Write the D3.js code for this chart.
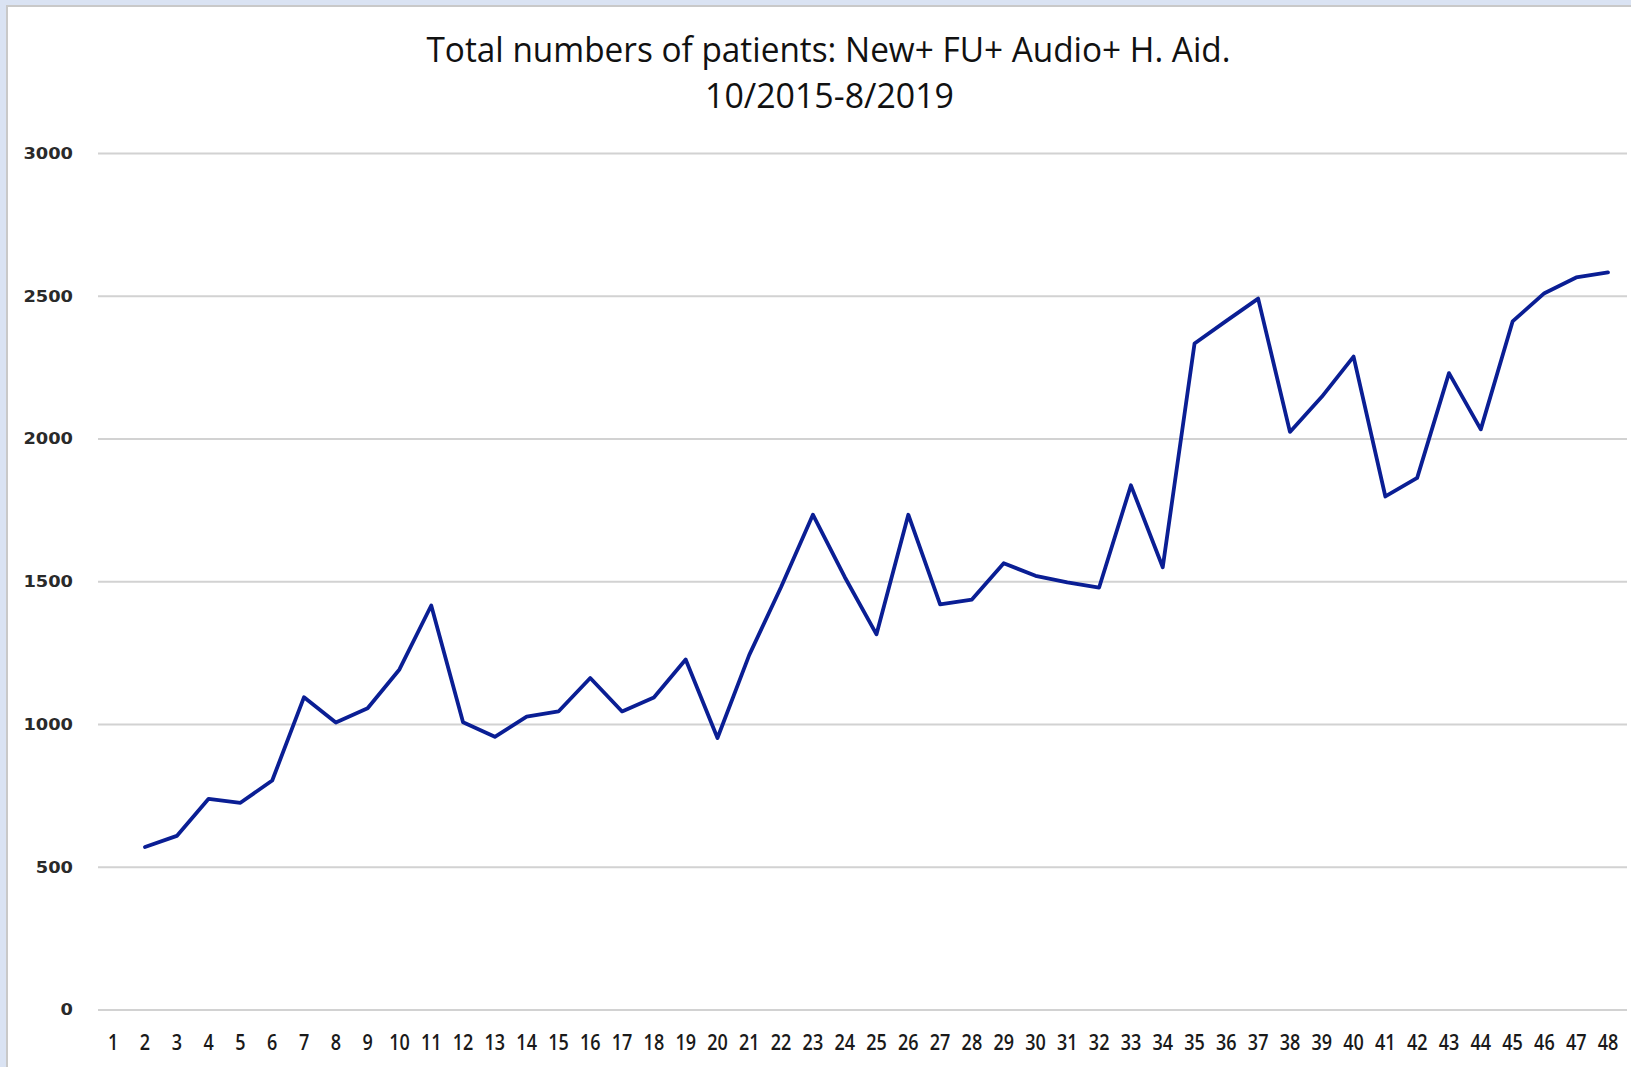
<!DOCTYPE html>
<html>
<head>
<meta charset="utf-8">
<script src="https://cdn.jsdelivr.net/npm/d3@7"></script>
<style>
  html, body { margin: 0; padding: 0; background: #ffffff; }
  svg { display: block; }
</style>
</head>
<body>
<svg id="chart" width="1631" height="1067"></svg>
<script>
// ---- data ----
const titleLines = ["Total numbers of patients: New+ FU+ Audio+ H. Aid.", "10/2015-8/2019"];
const categories = ["1","2","3","4","5","6","7","8","9","10","11","12","13","14","15","16","17","18","19","20","21","22","23","24","25","26","27","28","29","30","31","32","33","34","35","36","37","38","39","40","41","42","43","44","45","46","47","48"];
const totalPatients = [null, 569, 608, 738, 724, 802, 1094, 1005, 1055, 1191, 1415, 1006, 955, 1026, 1044, 1161, 1044, 1093, 1226, 951, 1242, 1480, 1733, 1515, 1314, 1733, 1419, 1436, 1563, 1519, 1496, 1478, 1836, 1549, 2333, 2412, 2490, 2023, 2146, 2287, 1797, 1862, 2229, 2032, 2410, 2509, 2564, 2582];
const yTicks = [0, 500, 1000, 1500, 2000, 2500, 3000];

// ---- layout ----
const W = 1631, H = 1067;
const svg = d3.select("#chart");

// frame
svg.append("rect").attr("x", 0).attr("y", 0).attr("width", W).attr("height", H).attr("fill", "#dae3f3");
svg.append("rect").attr("x", 6).attr("y", 5).attr("width", W - 6).attr("height", H - 5).attr("fill", "#c9c9c9");
svg.append("rect").attr("x", 8).attr("y", 7).attr("width", W - 8).attr("height", H - 7).attr("fill", "#ffffff");

const x = d3.scaleBand().domain(categories).range([97.3, 1623.9]);
const y = d3.scaleLinear().domain([0, 3000]).range([1009.5, 153]);

// gridlines
const grid = svg.append("g").attr("transform", "translate(98,0)")
  .call(d3.axisLeft(y).tickValues(yTicks).tickSize(-(1627 - 98)).tickFormat(""));
grid.select(".domain").remove();
grid.selectAll(".tick line").attr("stroke", "#d2d2d2").attr("stroke-width", 2);

// y labels
const yAxis = svg.append("g").attr("transform", "translate(73,0)")
  .call(d3.axisLeft(y).tickValues(yTicks).tickSize(0).tickPadding(0).tickFormat(d3.format("d")));
yAxis.select(".domain").remove();
yAxis.selectAll(".tick text")
  .attr("font-family", "DejaVu Sans, Verdana, sans-serif")
  .attr("font-size", 15)
  .attr("font-weight", 600)
  .attr("fill", "#2a2a2a")
  .attr("text-anchor", "end")
  .attr("dy", "0.36em")
  .attr("x", 0)
  .attr("textLength", function(d) { return String(d).length * 12.4; })
  .attr("lengthAdjust", "spacingAndGlyphs");

// x labels
const xAxis = svg.append("g").attr("transform", "translate(0,1034)")
  .call(d3.axisBottom(x).tickSize(0).tickPadding(0));
xAxis.select(".domain").remove();
xAxis.selectAll(".tick text")
  .attr("font-family", "Open Sans, sans-serif")
  .attr("font-size", 21)
  .attr("font-weight", 600)
  .attr("fill", "#1a1a1a")
  .attr("dy", "0.75em")
  .attr("textLength", function(d) { return String(d).length * 10.3; })
  .attr("lengthAdjust", "spacingAndGlyphs");

// line
const pts = categories.map((c, i) => ({c: c, v: totalPatients[i]}));
const line = d3.line()
  .defined(d => d.v != null)
  .x(d => x(d.c) + x.bandwidth() / 2)
  .y(d => y(d.v));
svg.append("path").datum(pts)
  .attr("d", line)
  .attr("fill", "none")
  .attr("stroke", "#0a1e94")
  .attr("stroke-width", 3.8)
  .attr("stroke-linejoin", "round")
  .attr("stroke-linecap", "round");

// title
const title = svg.append("g");
title.append("text")
  .attr("x", 828.5).attr("y", 62)
  .attr("text-anchor", "middle")
  .attr("font-family", "Open Sans, sans-serif")
  .attr("font-size", 35)
  .attr("fill", "#111")
  .attr("textLength", 804)
  .attr("lengthAdjust", "spacingAndGlyphs")
  .text(titleLines[0]);
title.append("text")
  .attr("x", 829.5).attr("y", 108)
  .attr("text-anchor", "middle")
  .attr("font-family", "Open Sans, sans-serif")
  .attr("font-size", 35)
  .attr("fill", "#111")
  .attr("textLength", 249)
  .attr("lengthAdjust", "spacingAndGlyphs")
  .text(titleLines[1]);
</script>
</body>
</html>
